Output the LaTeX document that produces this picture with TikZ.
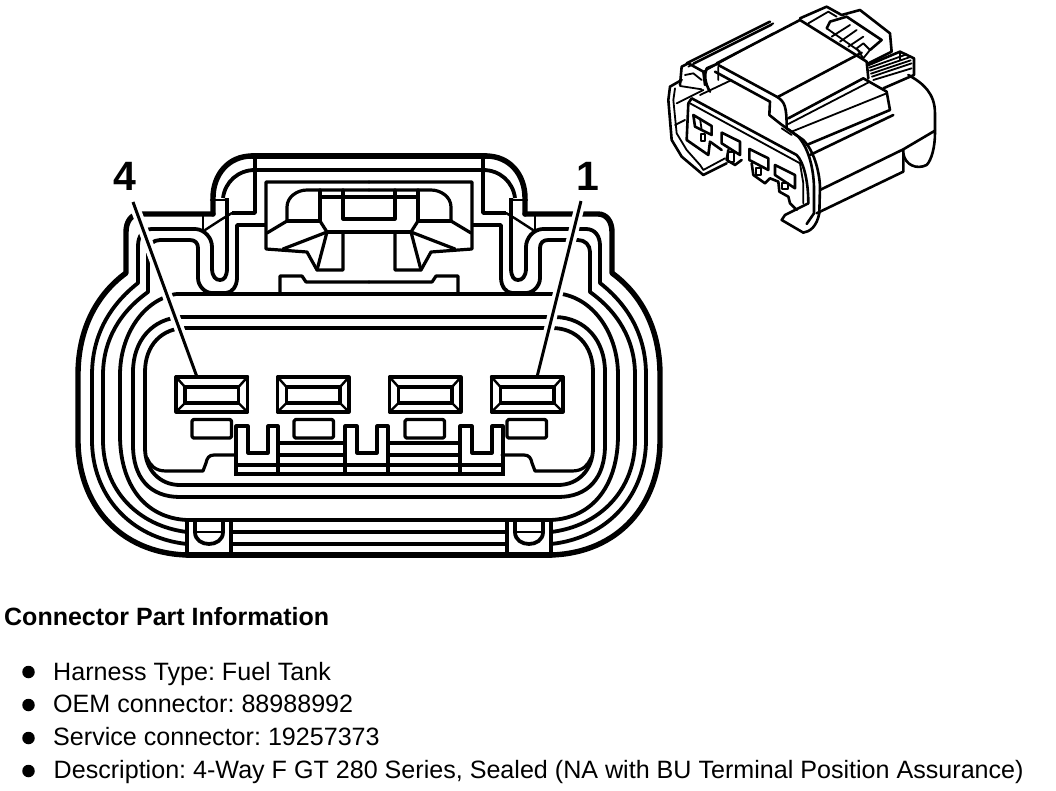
\documentclass[tikz,border=0pt]{standalone}
\usepackage{fontspec}
\setmainfont{Liberation Sans}
\tikzset{
 thk/.style={line width=5.4pt,line join=round,line cap=round},
 ring/.style={line width=3.8pt,line join=round,line cap=butt},
 med/.style={line width=3.2pt,line join=round,line cap=round},
 thn/.style={line width=2.4pt,line join=round,line cap=round},
 iso/.style={line width=1.8pt,line join=round,line cap=round},
 isot/.style={line width=2.6pt,line join=round,line cap=round},
 lbl/.style={anchor=base west,inner sep=0pt,font=\frenchspacing\fontsize{25.1}{28}\selectfont},
 ttl/.style={anchor=base west,inner sep=0pt,font=\frenchspacing\bfseries\fontsize{25}{28}\selectfont},
 digit/.style={inner sep=0pt,font=\bfseries\fontsize{41}{42}\selectfont},
 bul/.style={circle,fill=black,inner sep=0pt,minimum size=12.5pt},
}
\newcommand{\connhalf}{%
 % rings, continuous from the centre section; the leader halo cuts them
 \draw[thk] (213,214) -- (140,214) .. controls (131,214) and (126,222) .. (126,232) -- (126,273) .. controls (96,295) and (78,330) .. (78,375) -- (78,440) .. controls (78,505) and (120,553) .. (187,555);
 \draw[ring] (196,229) -- (152,229) .. controls (143,229) and (138,236) .. (138,246) -- (138,283) .. controls (110,305) and (92,335) .. (92,375) -- (92,440) .. controls (92,495) and (130,538) .. (187,544);
 \draw[ring] (190,240) -- (160,240) .. controls (153,240) and (148,245) .. (148,252) -- (148,292) .. controls (120,312) and (103,340) .. (103,375) -- (103,440) .. controls (103,490) and (138,526) .. (187,532);
 \draw[ring] (176,294) .. controls (143,300) and (120,335) .. (120,375) -- (120,435) .. controls (120,485) and (145,518) .. (187,520);
 \draw[ring] (182,317) .. controls (153,318) and (133,340) .. (133,372) -- (133,445) .. controls (133,478) and (150,497) .. (180,497);
 \draw[ring] (186,328) .. controls (162,328) and (145,345) .. (145,372) -- (145,448) .. controls (145,470) and (160,485) .. (180,485);
 % inner floor
 \draw[med] (147,458) .. controls (150,465) and (155,471) .. (166,471) -- (203,471) -- (206,463) .. controls (207,458) and (209,455) .. (214,455) -- (236,455);
 % shoulder
 \draw[thk] (213,214) -- (213,198) .. controls (213,175) and (228,156) .. (252,156);
 \draw[ring] (223,198) .. controls (225,182) and (238,170) .. (255,170);
 \draw[thn] (211,200) -- (225,200);
 \draw[ring] (255,156) -- (255,213) -- (232,213);
 \draw[thn] (232,213) -- (222,219) -- (205,230);
 \draw[thn] (203,214) -- (203,230);
 % U
 \draw[ring] (196,229) .. controls (205,230) and (212,238) .. (212,247) -- (212,268) .. controls (212,277) and (216,280) .. (220,280) .. controls (224,280) and (227,277) .. (227,268) -- (227,198);
 \draw[ring] (190,240) .. controls (195,240) and (198,243) .. (198,248) -- (198,278) .. controls (198,286) and (205,293) .. (212,293) -- (226,293) .. controls (232,293) and (237,286) .. (237,278) -- (237,225) -- (266,225);
 % bottom tab
 \draw[ring] (187,518) -- (187,555);
 \draw[ring] (231,520) -- (231,555);
 \draw[ring] (195,520) -- (195,532) .. controls (195,540) and (202,544) .. (209,544) .. controls (216,544) and (223,540) .. (223,532) -- (223,520);
 \draw[thn] (195,532) -- (223,532);
 % ledge
 \draw[med] (280,292) -- (280,276) -- (302,276) -- (306,282) -- (369,282);
 % latch half
 \draw[med] (369,182) -- (266,182) -- (266,249) -- (307,252) -- (317,270) -- (343,270) -- (343,232);
 \draw[med] (287,221) -- (287,207) .. controls (287,197) and (297,190) .. (307,190) -- (369,190);
 \draw[med] (287,221) -- (320,221) -- (320,190);
 \draw[med] (320,221) -- (327,232) -- (317,270);
 \draw[med] (327,232) -- (283,249);
 \draw[med] (287,221) -- (267,233);
 \draw[med] (327,232) -- (369,232);
 \draw[med] (343,190) -- (343,219) -- (369,219);
 \draw[med] (320,197) -- (369,197);
}
\newcommand{\pinbox}[2]{% left x, small rect left x
 \draw[med] (#1,377) rectangle ++(71.5,35);
 \draw[med] (#1+9,387) rectangle ++(53.5,16);
 \draw[thn] (#1,377) -- (#1+9,387) (#1+71.5,377) -- (#1+62.5,387) (#1,412) -- (#1+9,403) (#1+71.5,412) -- (#1+62.5,403);
 \draw[med,rounded corners=1.5pt] (#2,419.5) rectangle ++(39.5,18.5);
}
\begin{document}
\begin{tikzpicture}[x=1pt,y=-1pt]
\useasboundingbox (0,0) rectangle (1056,790);
\fill[white] (0,0) rectangle (1056,790);
\connhalf
\begin{scope}[xshift=738pt,xscale=-1]\connhalf\end{scope}
% horizontals
\draw[thk] (252,156) -- (486,156);
\draw[ring] (255,170) -- (483,170);
\draw[ring] (176,294) -- (562,294);
\draw[ring] (182,317) -- (556,317);
\draw[ring] (186,328) -- (552,328);
\draw[ring] (180,485) -- (558,485);
\draw[ring] (180,497) -- (558,497);
\draw[ring] (187,520) -- (551,520);
\draw[ring] (231,532) -- (507,532);
\draw[ring] (231,544) -- (507,544);
\draw[thk] (187,555) -- (551,555);
% pins
\pinbox{176}{192}
\pinbox{277.5}{294}
\pinbox{389.5}{405}
\pinbox{491.5}{507}
% comb
\draw[med] (236,455) -- (236,426) -- (248,426) -- (248,453) -- (268,453) -- (268,426) -- (278,426) -- (278,474);
\draw[med] (345,474) -- (345,426) -- (357,426) -- (357,453) -- (377,453) -- (377,426) -- (388,426) -- (388,474);
\draw[med] (460,474) -- (460,426) -- (472,426) -- (472,453) -- (492,453) -- (492,426) -- (503,426) -- (503,455);
\draw[med] (236,455) -- (236,474);
\draw[med] (503,455) -- (503,474);
\draw[line width=4.4pt] (234,474) -- (505,474);
\draw[med] (236,465) -- (503,465);
\draw[med] (278,443) -- (345,443) (388,443) -- (460,443);
\draw[line width=4.4pt] (278,455) -- (345,455) (388,455) -- (460,455);
% leaders
\node[digit] (n4) at (125,176.5) {4};
\node[digit] (n1) at (588,176.5) {1};
\coordinate (p4) at (197,377);
\coordinate (p1) at (537,377);
\coordinate (s4) at (133,202);
\coordinate (s1) at (581,201);
\draw[white,line width=10pt] (s4) -- (p4) (s1) -- (p1);
\draw[line width=3pt] (s4) -- (p4);
\draw[line width=3pt] (s1) -- (p1);
\draw[med] (176,377) -- (247.5,377);
\draw[med] (491.5,377) -- (563,377);
% isometric view
\begin{scope}[shift={(660pt,0pt)},x=0.3333pt,y=-0.3333pt]
 \draw[isot] (420,55) -- (500,20) -- (545,45) -- (600,30) -- (690,100) -- (695,155) -- (625,190);
 \draw[iso] (445,70) -- (505,35) -- (530,50);
 \draw[isot] (500,85) -- (510,65) -- (560,50) -- (665,120) -- (630,150);
 \draw[iso] (515,110) -- (570,75) (540,125) -- (590,90) (565,140) -- (610,110) (500,85) -- (600,155);
 \draw[iso] (590,145) -- (610,130) -- (630,150) -- (610,175) -- cycle;
 \draw[isot] (80,190) -- (330,65);
 \draw[iso] (85,200) -- (335,75) (100,190) -- (340,70) (130,215) -- (340,100);
 \draw[isot] (170,190) -- (420,60) -- (620,185) -- (625,235);
 \draw[isot] (355,290) -- (605,158);
 \draw[isot] (385,355) -- (610,235) -- (680,275) -- (690,330) -- (440,435);
 \draw[iso] (385,372) -- (630,245);
 \draw[iso] (395,395) -- (680,280);
 \draw[isot] (625,195) -- (720,155) -- (762,175) -- (762,225) -- (670,265);
 \draw[iso] (628,203) -- (740,163) (630,212) -- (748,172) (633,221) -- (752,181) (636,230) -- (755,190) (640,240) -- (755,205) (720,155) -- (720,180);
 \draw[isot] (745,225) .. controls (790,250) and (825,280) .. (825,340) -- (825,400);
 \draw[isot] (480,570) -- (730,448) -- (825,392);
 \draw[isot] (470,640) -- (730,515) -- (730,448);
 \draw[isot] (730,460) .. controls (735,495) and (770,510) .. (800,495) .. controls (815,480) and (825,440) .. (825,400);
 \draw[isot] (450,465) -- (700,345);
 \draw[isot] (140,205) -- (175,190) (140,205) .. controls (132,225) and (135,250) .. (150,275);
 \draw[isot] (175,195) -- (350,290) .. controls (375,305) and (380,320) .. (380,385) -- (430,420) .. controls (460,450) and (478,510) .. (480,560) -- (478,640) .. controls (470,680) and (450,695) .. (430,698) -- (365,660) -- (375,645) -- (445,610);
 \draw[isot] (165,215) -- (330,305) -- (328,345) -- (362,372) -- (415,410) .. controls (445,445) and (460,500) .. (462,560) -- (462,640) -- (440,672);
 \draw[iso] (175,200) -- (175,240) (365,385) -- (395,405);
 \draw[isot] (85,310) -- (95,295) -- (410,465) .. controls (430,485) and (445,540) .. (445,610);
 \draw[iso] (90,310) -- (420,490) -- (430,550) -- (430,610);
 \draw[isot] (85,310) -- (80,420) -- (145,465) -- (150,425) -- (185,450);
 \draw[isot] (65,240) -- (30,260) -- (25,300) -- (35,420) -- (65,470) -- (130,525) -- (200,490);
 \draw[iso] (45,265) -- (40,300) -- (50,400) -- (80,450) -- (120,495) -- (130,510) -- (195,475);
 \draw[isot] (60,255) -- (65,200) -- (85,190) -- (130,215) -- (135,255);
 \draw[iso] (75,225) -- (100,220) -- (125,240) (60,258) -- (125,268);
 \draw[iso] (50,310) -- (130,270) (45,375) -- (75,360) (120,285) -- (215,240);
 \draw[isot] (100,345) -- (105,380) -- (125,390) -- (155,405) -- (155,378) -- cycle;
 \draw[iso] (120,355) -- (125,390);
 \draw[isot] (185,398) -- (240,425) -- (240,465) -- (185,430) -- cycle;
 \draw[isot] (268,447) -- (325,475) -- (325,510) -- (268,480) -- cycle;
 \draw[isot] (345,495) -- (405,525) -- (405,565) -- (345,525) -- cycle;
 \draw[iso] (122,402) rectangle (136,424) (205,455) rectangle (222,485) (287,505) rectangle (303,525) (365,548) rectangle (383,568);
 \draw[isot] (205,450) -- (200,480) -- (225,495) -- (245,480);
 \draw[isot] (275,490) -- (280,525) -- (315,550) -- (330,535) -- (355,545) -- (358,575) -- (385,590) -- (390,610) -- (410,630);
\end{scope}
% text
\node[ttl] (t0) at (4,625) {Connector Part Information};
\node[bul] (b1) at (28.5,672) {};
\node[bul] (b2) at (28.5,705) {};
\node[bul] (b3) at (28.5,738) {};
\node[bul] (b4) at (28.5,771) {};
\node[lbl] (t1) at (53,680) {Harness Type: Fuel Tank};
\node[lbl] (t2) at (53,712) {OEM connector: 88988992};
\node[lbl] (t3) at (53,745) {Service connector: 19257373};
\node[lbl] (t4) at (53.5,778) {Description: 4-Way F GT 280 Series, Sealed (NA with BU Terminal Position Assurance)};
\end{tikzpicture}
\end{document}
